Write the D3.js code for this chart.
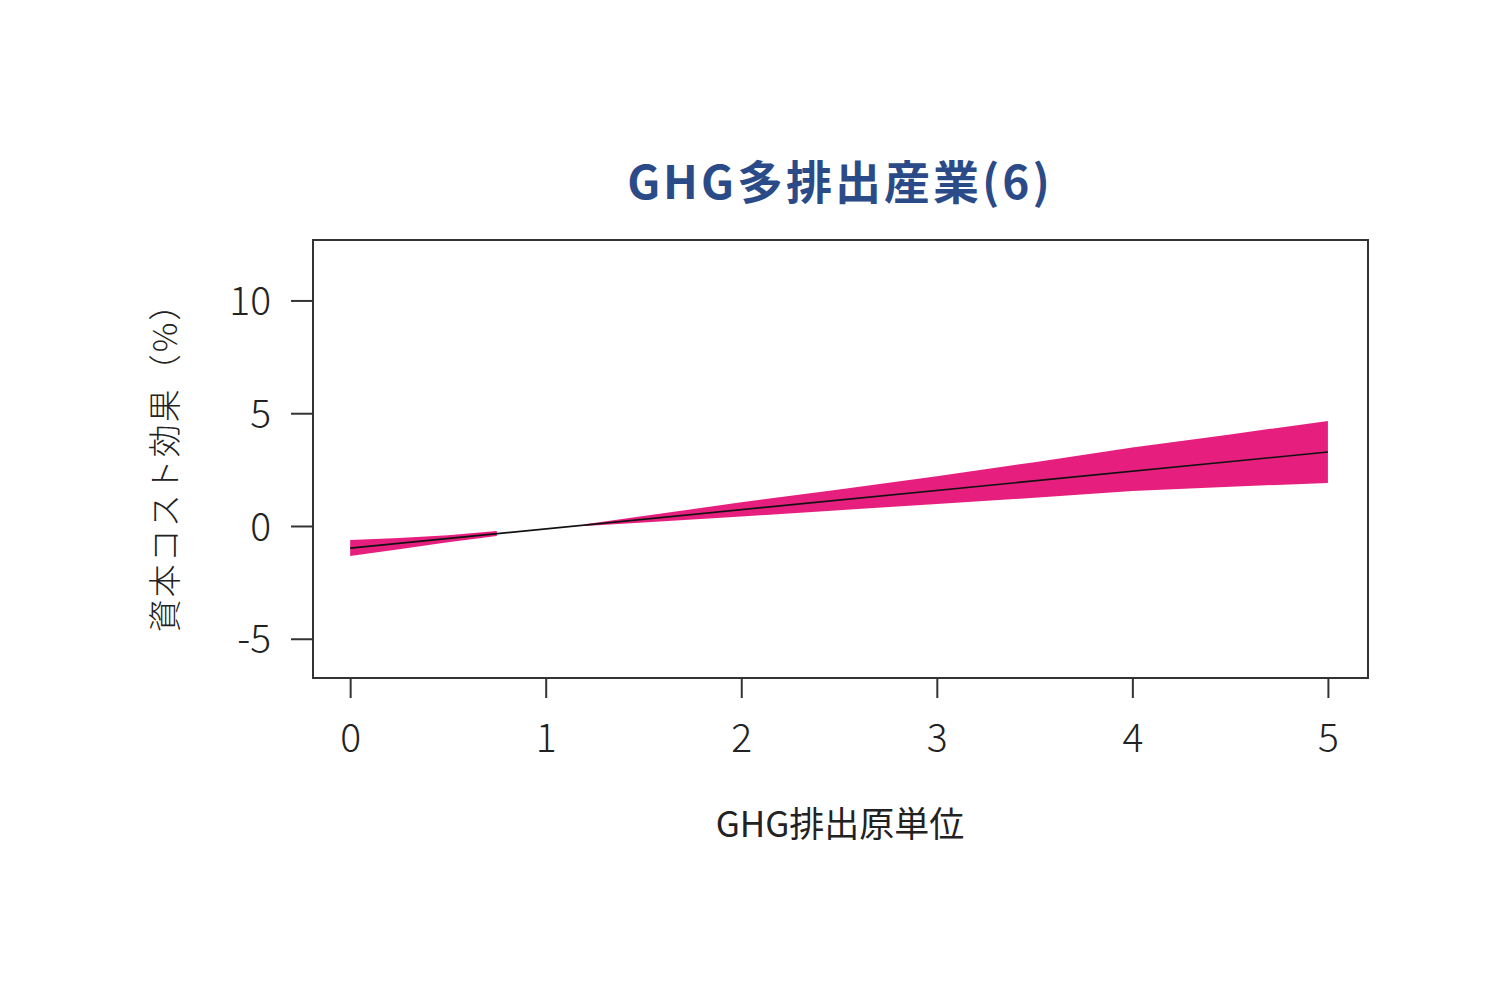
<!DOCTYPE html>
<html>
<head>
<meta charset="utf-8">
<script src="https://cdn.jsdelivr.net/npm/d3@7"></script>
<style>
  body { margin: 0; background: #fff; }
  text { font-family: "Noto Sans CJK JP", "Noto Sans", sans-serif; }
</style>
</head>
<body>
<script>
// estimated effect line (GHG intensity -> cost of capital effect, %)
const lineX = [0, 5];
const lineY = [-0.98, 3.28];

// confidence band, drawn in two pieces (the middle part is too thin to show)
const bandA_x = [0, 0.25, 0.5, 0.75];
const bandA_lo = [-1.33, -1.03, -0.72, -0.44];
const bandA_hi = [-0.62, -0.53, -0.41, -0.22];

const bandB_x = [1.2, 1.5, 2, 2.5, 3, 3.5, 4, 4.5, 5];
const bandB_lo = [0.0, 0.16, 0.42, 0.70, 0.98, 1.25, 1.55, 1.74, 1.91];
const bandB_hi = [0.08, 0.44, 1.05, 1.62, 2.20, 2.83, 3.48, 4.06, 4.66];

const xTicks = [0, 1, 2, 3, 4, 5];
const yTicks = [-5, 0, 5, 10];

const title = "GHG多排出産業(6)";
const xTitle = "GHG排出原単位";
const yTitle = "資本コスト効果（%）";

const width = 1500, height = 1000;
const box = { left: 313, right: 1368, top: 240, bottom: 678 };

const svg = d3.select("body").append("svg")
  .attr("width", width)
  .attr("height", height);

let x = d3.scaleLinear().domain([-0.19, 5.205]).range([box.left, box.right]);
let y = d3.scaleLinear().domain([-6.74, 12.68]).range([box.bottom, box.top]);

let area = d3.area()
  .x((d) => x(d[0]))
  .y0((d) => y(d[1]))
  .y1((d) => y(d[2]));

let pieceA = bandA_x.map((v, i) => [v, bandA_lo[i], bandA_hi[i]]);
let pieceB = bandB_x.map((v, i) => [v, bandB_lo[i], bandB_hi[i]]);

svg.selectAll(".band")
  .data([pieceA, pieceB])
  .enter().append("path")
  .attr("class", "band")
  .attr("d", area)
  .attr("fill", "#e61f7e");

svg.append("path")
  .datum(lineX.map((v, i) => [v, lineY[i]]))
  .attr("d", d3.line().x((d) => x(d[0])).y((d) => y(d[1])))
  .attr("fill", "none")
  .attr("stroke", "#111")
  .attr("stroke-width", 1.6);

// frame
svg.append("rect")
  .attr("x", box.left)
  .attr("y", box.top)
  .attr("width", box.right - box.left)
  .attr("height", box.bottom - box.top)
  .attr("fill", "none")
  .attr("stroke", "#333")
  .attr("stroke-width", 2);

let plain = (d) => String(d);

let xAxis = svg.append("g")
  .attr("transform", `translate(0,${box.bottom})`)
  .call(d3.axisBottom(x).tickValues(xTicks).tickSize(20).tickPadding(26).tickFormat(plain));

let yAxis = svg.append("g")
  .attr("transform", `translate(${box.left},0)`)
  .call(d3.axisLeft(y).tickValues(yTicks).tickSize(22).tickPadding(20).tickFormat(plain));

[xAxis, yAxis].forEach((g) => {
  g.select(".domain").remove();
  g.selectAll(".tick line").attr("stroke", "#333").attr("stroke-width", 2);
  g.selectAll(".tick text")
    .attr("fill", "#222")
    .style("font-size", "39px")
    .style("font-weight", "300");
});
yAxis.selectAll(".tick text").attr("dy", "0.36em");

svg.append("text")
  .attr("x", 840)
  .attr("y", 199)
  .attr("text-anchor", "middle")
  .attr("fill", "#2b4b88")
  .style("font-size", "46px")
  .style("font-weight", "700")
  .style("letter-spacing", "3px")
  .text(title);

svg.append("text")
  .attr("x", 840)
  .attr("y", 837)
  .attr("text-anchor", "middle")
  .attr("fill", "#222")
  .style("font-size", "35px")
  .style("font-weight", "400")
  .text(xTitle);

svg.append("text")
  .attr("transform", "translate(177,459) rotate(-90)")
  .attr("text-anchor", "middle")
  .attr("fill", "#222")
  .style("font-size", "33px")
  .style("font-weight", "300")
  .style("letter-spacing", "2px")
  .text(yTitle);
</script>
</body>
</html>
